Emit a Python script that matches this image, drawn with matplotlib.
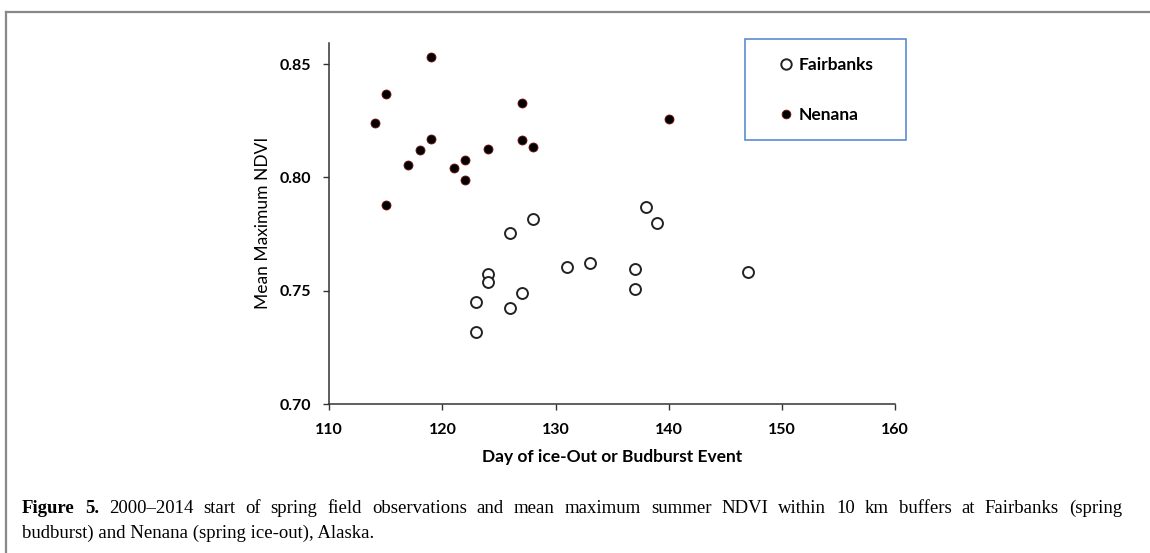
import matplotlib.pyplot as plt
from matplotlib.patches import Rectangle
from matplotlib.lines import Line2D

# ------------------------------------------------------------
#  Datos
# ------------------------------------------------------------
fairbanks_day = [138, 139, 128, 126, 124, 124, 131, 133, 137, 137, 147, 123, 127, 126, 123]
fairbanks_ndvi = [0.787, 0.780, 0.7815, 0.7756, 0.7572, 0.7538, 0.7606, 0.7622,
                  0.7598, 0.7506, 0.7583, 0.745, 0.7488, 0.7423, 0.7319]

nenana_day = [114, 115, 115, 119, 119, 118, 117, 121, 122, 122, 124, 127, 127, 128, 140]
nenana_ndvi = [0.824, 0.837, 0.788, 0.853, 0.817, 0.812, 0.8053, 0.804, 0.8075,
               0.7987, 0.8125, 0.833, 0.8165, 0.8134, 0.8257]

x_ticks = [110, 120, 130, 140, 150, 160]
y_ticks = [0.70, 0.75, 0.80, 0.85]

# ------------------------------------------------------------
#  Figura
# ------------------------------------------------------------
plt.rcParams['font.family'] = ['Lato', 'DejaVu Sans']

fig = plt.figure(figsize=(11.5, 5.53), dpi=100)
W, H = 1150, 553

def fx(px):
    return px / W

def fy(py):
    return 1 - py / H

ax = fig.add_axes([fx(329.3), fy(404), fx(895) - fx(329.3), fy(42.7) - fy(404)])

ax.scatter(fairbanks_day, fairbanks_ndvi, s=62, facecolors='white',
           edgecolors='#222222', linewidths=1.4, zorder=3)
ax.scatter(nenana_day, nenana_ndvi, s=42, facecolors='black',
           edgecolors='#7a1010', linewidths=0.6, zorder=3)

ax.set_xlim(110, 160)
ax.set_ylim(0.70, 0.8595)
ax.set_xticks(x_ticks)
ax.set_yticks(y_ticks)
ax.set_xticklabels([str(t) for t in x_ticks], fontweight='bold', fontsize=11.5)
ax.set_yticklabels([f"{t:.2f}" for t in y_ticks], fontweight='bold', fontsize=11.5)
ax.tick_params(axis='both', direction='out', length=4, width=1, color='#333333')
ax.tick_params(axis='x', pad=10)
ax.tick_params(axis='y', pad=9)

for side in ['top', 'right']:
    ax.spines[side].set_visible(False)
for side in ['left', 'bottom']:
    ax.spines[side].set_color('#333333')
    ax.spines[side].set_linewidth(1.1)

ax.set_xlabel("Day of ice-Out or Budburst Event", fontweight='bold', fontsize=12.5, labelpad=8)
ax.set_ylabel("Mean Maximum NDVI", fontsize=12.5, labelpad=6)

# Recuadro de la leyenda
fig.patches.append(Rectangle((fx(745), fy(140)), fx(906) - fx(745), fy(39.3) - fy(140),
                             transform=fig.transFigure, fill=False,
                             edgecolor='#5b8bd0', linewidth=1.2))

handles = [
    Line2D([], [], linestyle='none', marker='o', markersize=7.5,
           markerfacecolor='white', markeredgecolor='#222222', markeredgewidth=1.4),
    Line2D([], [], linestyle='none', marker='o', markersize=6.3,
           markerfacecolor='black', markeredgecolor='#7a1010', markeredgewidth=0.6),
]
leg = fig.legend(handles, ['Fairbanks', 'Nenana'], loc='center left',
                 bbox_to_anchor=(fx(762), fy(90)), frameon=False,
                 handlelength=1.0, handletextpad=0.2, labelspacing=2.0,
                 prop={'weight': 'bold', 'size': 12.5})

# Marco gris de la página
fig.add_artist(Line2D([fx(6), 1], [fy(12), fy(12)], transform=fig.transFigure,
                      color='#888888', linewidth=1.6))
fig.add_artist(Line2D([fx(6), fx(6)], [fy(12), 0], transform=fig.transFigure,
                      color='#888888', linewidth=1.6))

# Pie de figura (primera línea justificada)
cap_font = ['Liberation Serif', 'DejaVu Serif']
cap_size = 13.5
line1 = ("2000\u20132014 start of spring field observations and mean maximum summer NDVI "
         "within 10 km buffers at Fairbanks (spring").split(" ")
words = [("Figure", 'bold'), ("5.", 'bold')] + [(w, 'normal') for w in line1]
texts = [fig.text(0, fy(513), w, family=cap_font, fontweight=wt, fontsize=cap_size,
                  va='baseline', ha='left') for w, wt in words]
fig.canvas.draw()
r = fig.canvas.get_renderer()
widths = [t.get_window_extent(r).width for t in texts]
x0, x1 = 22, 1122
gap = (x1 - x0 - sum(widths)) / (len(texts) - 1)
x = x0
for t, w in zip(texts, widths):
    t.set_x(fx(x))
    x += w + gap

fig.text(fx(22), fy(538), "budburst) and Nenana (spring ice-out), Alaska.",
         family=cap_font, fontsize=cap_size, va='baseline', ha='left')

fig.savefig("out.png", dpi=100)
